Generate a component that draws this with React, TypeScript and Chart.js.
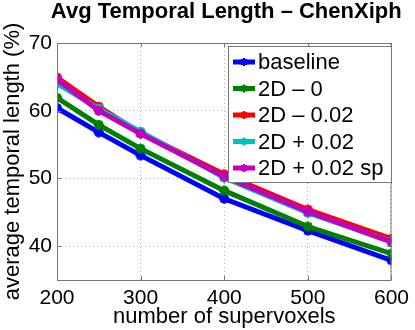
import React, { useEffect, useRef } from "react";
import { Chart, registerables } from "chart.js";

Chart.register(...registerables);

const TITLE = "Avg Temporal Length \u2013 ChenXiph";
const X_LABEL = "number of supervoxels";
const Y_LABEL = "average temporal length (%)";

const supervoxels = [200, 250, 300, 400, 500, 600];
const baseline = [60.4, 56.8, 53.4, 47.0, 42.3, 37.9];
const twoDMinus0 = [61.9, 57.9, 54.4, 48.2, 42.9, 38.9];
const twoDMinus002 = [64.9, 60.6, 56.7, 50.6, 45.4, 41.1];
const twoDPlus002 = [64.0, 60.3, 56.9, 50.1, 44.9, 40.7];
const twoDPlus002sp = [64.6, 60.0, 56.6, 50.3, 45.1, 40.6];

const seriesNames = ["baseline", "2D \u2013 0", "2D \u2013 0.02", "2D + 0.02", "2D + 0.02 sp"];
const seriesColors = ["#0000ff", "#008000", "#ff0000", "#00bfbf", "#bf00bf"];
const seriesValues = [baseline, twoDMinus0, twoDMinus002, twoDPlus002, twoDPlus002sp];

const xTicks = [200, 300, 400, 500, 600];
const yTicks = [40, 50, 60, 70];

const FONT = "'Liberation Sans', Arial, Helvetica, sans-serif";

const overlayPlugin = {
  id: "overlay",
  afterDraw(chart: any) {
    const ctx = chart.ctx;
    const { left, right, top, bottom } = chart.chartArea;
    ctx.save();
    // axes box
    ctx.strokeStyle = "#777777";
    ctx.lineWidth = 1;
    ctx.setLineDash([]);
    ctx.strokeRect(left + 0.5, top + 0.5, right - left - 1, bottom - top);
    // inward ticks
    const xs = chart.scales.x;
    const ys = chart.scales.y;
    ctx.beginPath();
    xTicks.forEach((v) => {
      const px = Math.round(xs.getPixelForValue(v)) + 0.5;
      ctx.moveTo(px, bottom);
      ctx.lineTo(px, bottom - 4);
      ctx.moveTo(px, top);
      ctx.lineTo(px, top + 4);
    });
    yTicks.forEach((v) => {
      const py = Math.round(ys.getPixelForValue(v)) + 0.5;
      ctx.moveTo(left, py);
      ctx.lineTo(left + 4, py);
      ctx.moveTo(right, py);
      ctx.lineTo(right - 4, py);
    });
    ctx.stroke();

    // title
    ctx.fillStyle = "#000000";
    ctx.font = `bold 22px ${FONT}`;
    ctx.textAlign = "center";
    ctx.textBaseline = "alphabetic";
    ctx.fillText(TITLE, (left + right) / 2 + 2, 18);

    // legend
    const lx = 228, ly = 46, lw = 163, lh = 136;
    ctx.fillStyle = "#ffffff";
    ctx.fillRect(lx, ly, lw, lh);
    ctx.strokeStyle = "#777777";
    ctx.strokeRect(lx + 0.5, ly + 0.5, lw, lh);
    ctx.font = `22px ${FONT}`;
    ctx.textAlign = "left";
    ctx.textBaseline = "middle";
    seriesNames.forEach((name, i) => {
      const y = 62 + i * 26.5;
      ctx.strokeStyle = seriesColors[i];
      ctx.lineWidth = 5;
      ctx.beginPath();
      ctx.moveTo(233, y);
      ctx.lineTo(255, y);
      ctx.stroke();
      ctx.lineWidth = 2;
      ctx.beginPath();
      const r = 4;
      for (let k = 0; k < 4; k++) {
        const a = (k * Math.PI) / 4;
        ctx.moveTo(244 + r * Math.cos(a), y + r * Math.sin(a));
        ctx.lineTo(244 - r * Math.cos(a), y - r * Math.sin(a));
      }
      ctx.stroke();
      ctx.fillStyle = "#000000";
      ctx.fillText(name, 258, y + 1);
    });
    ctx.restore();
  },
};

export default function App() {
  const ref = useRef<HTMLCanvasElement | null>(null);
  useEffect(() => {
    if (!ref.current) return;
    const datasets = seriesNames.map((name, i) => ({
      label: name,
      data: supervoxels.map((x, j) => ({ x, y: seriesValues[i][j] })),
      borderColor: seriesColors[i],
      backgroundColor: seriesColors[i],
      borderWidth: 5,
      pointStyle: "star",
      pointRadius: 5,
      pointBorderWidth: 3,
      pointBorderColor: seriesColors[i],
      tension: 0,
      fill: false,
      order: seriesNames.length - i,
    }));
    const chart = new Chart(ref.current, {
      type: "line",
      data: { datasets },
      plugins: [overlayPlugin],
      options: {
        responsive: false,
        animation: false,
        events: [],
        layout: { padding: { top: 43, right: 22, left: 0, bottom: 0 } },
        plugins: { legend: { display: false }, title: { display: false }, tooltip: { enabled: false } },
        scales: {
          x: {
            type: "linear",
            min: 200,
            max: 600,
            afterFit: (s: any) => {
              s.height = 50;
            },
            afterBuildTicks: (s: any) => {
              s.ticks = xTicks.map((v) => ({ value: v }));
            },
            ticks: { color: "#000", font: { family: FONT, size: 21 }, padding: 6, maxRotation: 0 },
            grid: { color: "#b0b0b0", drawTicks: false, tickLength: 0, lineWidth: 1 },
            border: { display: false, dash: [1, 3] },
            title: { display: true, text: X_LABEL, color: "#000", font: { family: FONT, size: 22 }, padding: { top: 0, bottom: 0 } },
          },
          y: {
            type: "linear",
            min: 35,
            max: 70,
            afterFit: (s: any) => {
              s.width = 57;
            },
            afterBuildTicks: (s: any) => {
              s.ticks = yTicks.map((v) => ({ value: v }));
            },
            ticks: { color: "#000", font: { family: FONT, size: 21 }, padding: 5 },
            grid: { color: "#b0b0b0", drawTicks: false, tickLength: 0, lineWidth: 1 },
            border: { display: false, dash: [1, 3] },
            title: { display: true, text: Y_LABEL, color: "#000", font: { family: FONT, size: 22 }, padding: { top: 0, bottom: 0 } },
          },
        },
      },
    } as any);
    return () => chart.destroy();
  }, []);
  return (
    <div style={{ position: "fixed", left: 0, top: 0, width: 415, height: 330, background: "#fff" }}>
      <canvas ref={ref} width={415} height={330} style={{ display: "block" }} />
    </div>
  );
}
